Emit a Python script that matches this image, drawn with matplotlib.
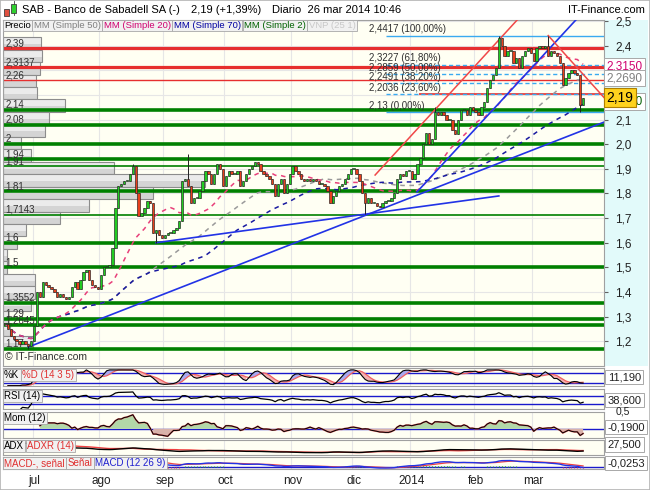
import numpy as np
import pandas as pd
import matplotlib
matplotlib.use("Agg")
import matplotlib.pyplot as plt
import matplotlib.transforms as mtransforms
from matplotlib.patches import Rectangle

plt.rcParams['font.family'] = ['Liberation Sans', 'DejaVu Sans']

W, H = 650, 490

# daily closes, 17 jun 2013 .. 26 mar 2014
closes = [
    1.27, 1.25, 1.22, 1.21, 1.20, 1.19, 1.20, 1.19, 1.18, 1.20,
    1.26, 1.40, 1.38, 1.44, 1.43, 1.42, 1.41, 1.40, 1.38, 1.39, 1.38, 1.37,
    1.38, 1.42, 1.44, 1.41, 1.45, 1.48, 1.49, 1.45, 1.43, 1.42, 1.41,
    1.47, 1.50, 1.50, 1.51, 1.58, 1.74, 1.83, 1.84, 1.85, 1.85, 1.88,
    1.91, 1.80, 1.71, 1.72, 1.74, 1.77, 1.76, 1.64, 1.65, 1.63, 1.62,
    1.63, 1.64, 1.64, 1.65, 1.66, 1.69, 1.85, 1.86, 1.83, 1.76, 1.78,
    1.78, 1.81, 1.85, 1.89, 1.88, 1.84, 1.88, 1.92, 1.90, 1.83,
    1.87, 1.89, 1.88, 1.88, 1.89, 1.83, 1.85, 1.88, 1.90, 1.91, 1.93, 1.92,
    1.89, 1.88, 1.87, 1.86, 1.84, 1.79, 1.84, 1.86, 1.80, 1.84, 1.88,
    1.91, 1.89, 1.88, 1.86, 1.85, 1.86, 1.85, 1.86, 1.85, 1.84, 1.84,
    1.83, 1.81, 1.76, 1.79, 1.81, 1.83, 1.84, 1.86, 1.88, 1.90,
    1.90, 1.88, 1.85, 1.80, 1.76, 1.78, 1.76, 1.76, 1.75, 1.745,
    1.76, 1.77, 1.77, 1.78, 1.80, 1.86, 1.88, 1.87, 1.89, 1.89,
    1.86, 1.88, 1.92, 1.945, 2.00, 2.045, 2.00, 2.02, 2.13, 2.12, 2.13,
    2.12, 2.10, 2.10, 2.06, 2.04, 2.10, 2.14, 2.14, 2.12, 2.15, 2.14,
    2.13, 2.12, 2.15, 2.17, 2.23, 2.26, 2.28, 2.31, 2.43, 2.40,
    2.36, 2.38, 2.38, 2.33, 2.35, 2.31, 2.36, 2.38, 2.39, 2.37,
    2.34, 2.39, 2.40, 2.39, 2.40, 2.36, 2.38, 2.37, 2.36,
    2.33, 2.24, 2.27, 2.29, 2.30, 2.29, 2.28, 2.16, 2.19,
]
# wicks that clearly stick out of the bodies
highs = {44: 1.92, 63: 1.96, 148: 2.15, 170: 2.44, 187: 2.4417}
lows = {8: 1.17, 52: 1.60, 124: 1.715, 198: 2.13}

month_labels = ['jul', 'ago', 'sep', 'oct', 'nov', 'dic', '2014', 'feb', 'mar']

sr_levels = [2.39, 2.3137, 2.26, 2.14, 2.08, 2.0, 1.94, 1.91, 1.81, 1.7143,
             1.6, 1.5, 1.3552, 1.29, 1.2645, 1.17]
sr_labels = ['2,39', '2,3137', '2,26', '2,14', '2,08', '2', '1,94', '1,91', '1,81',
             '1,7143', '1,6', '1,5', '1,3552', '1,29', '1,2645', '1,17']
sr_kind = ['R', 'R', 'r', 'G', 'G', 'G', 'G', 'g', 'G', 'g', 'G', 'G', 'G', 'G', 'G', 'G']

fib_levels = [2.4417, 2.3227, 2.2859, 2.2491, 2.2036, 2.13]
fib_labels = ['2,4417 (100,00%)', '2,3227 (61,80%)', '2,2859 (50,00%)',
              '2,2491 (38,20%)', '2,2036 (23,60%)', '2,13 (0,00%)']

# volume at price, top bin first
vp_top = 2.435
vp_step = 0.0506
vp_volume = [38, 39, 37, 33, 34, 62, 46, 42, 18, 28, 111, 202, 150, 86, 57, 23,
             14, 4, 4, 32, 32, 28, 5, 7, 30]

trend_blue = [((8, 1.176), (206.2, 2.09)), ((52, 1.60), (170, 1.79)),
              ((141.8, 1.806), (196.5, 2.505))]
trend_red = [((127.4, 1.875), (176.3, 2.505)), ((187, 2.4417), (206.2, 2.19))]

right_marks = [(2.3150, '2,3150', '#d0006f'), (2.2690, '2,2690', '#808080'),
               (2.1750, '2,1750', '#006000')]
last_price = 2.19

# ---------------------------------------------------------------------------
dates = pd.bdate_range('2013-06-17', '2014-03-26')
dates = dates.drop(pd.to_datetime(['2013-12-25', '2013-12-26', '2014-01-01']))
n = min(len(dates), len(closes))
dates = dates[:n]
c = pd.Series(closes[:n], dtype=float)
x = np.arange(n)
o = c.shift(1).fillna(c.iloc[0])
h = pd.concat([o, c], axis=1).max(axis=1)
l = pd.concat([o, c], axis=1).min(axis=1)
for k, v in highs.items():
    h[k] = v
for k, v in lows.items():
    l[k] = v

month_starts = [i for i in range(1, n) if dates[i].month != dates[i - 1].month]

# indicators
sma = {p: c.rolling(p, min_periods=1).mean() for p in (20, 50, 70)}
ll = l.rolling(14, min_periods=1).min()
hh = h.rolling(14, min_periods=1).max()
raw_k = 100 * (c - ll) / (hh - ll).replace(0, np.nan)
st_k = raw_k.rolling(3, min_periods=1).mean()
st_d = st_k.rolling(5, min_periods=1).mean()

delta = c.diff().fillna(0)
up = delta.clip(lower=0).ewm(alpha=1 / 14, adjust=False).mean()
dn = (-delta.clip(upper=0)).ewm(alpha=1 / 14, adjust=False).mean()
rsi = 100 - 100 / (1 + up / dn.replace(0, np.nan))

mom = c - c.shift(12)

tr = pd.concat([h - l, (h - c.shift()).abs(), (l - c.shift()).abs()], axis=1).max(axis=1)
upm = h.diff()
dnm = -l.diff()
pdm = pd.Series(np.where((upm > dnm) & (upm > 0), upm, 0.0))
ndm = pd.Series(np.where((dnm > upm) & (dnm > 0), dnm, 0.0))
atr = tr.ewm(alpha=1 / 14, adjust=False).mean()
pdi = 100 * pdm.ewm(alpha=1 / 14, adjust=False).mean() / atr
ndi = 100 * ndm.ewm(alpha=1 / 14, adjust=False).mean() / atr
dx = 100 * (pdi - ndi).abs() / (pdi + ndi).replace(0, np.nan)
adx = dx.ewm(alpha=1 / 14, adjust=False).mean()
adxr = (adx + adx.shift(14)) / 2

macd = c.ewm(span=12, adjust=False).mean() - c.ewm(span=26, adjust=False).mean()
sig = macd.ewm(span=9, adjust=False).mean()
hist = macd - sig

# ---------------------------------------------------------------------------
fig = plt.figure(figsize=(W / 100, H / 100), dpi=100)
fig.patch.set_facecolor('white')
rend = fig.canvas.get_renderer()


def add_ax(x0, y0, x1, y1):
    return fig.add_axes([x0 / W, 1 - y1 / H, (x1 - x0) / W, (y1 - y0) / H])


def ftext(px, py, s, **kw):
    return fig.text(px / W, 1 - py / H, s, **kw)


def chain(px, py, items, gap=3, boxed=True, **kw):
    # row of labels, each placed right after the previous one
    for s, col in items:
        extra = {}
        if boxed:
            extra['bbox'] = dict(boxstyle='square,pad=0.15', fc='#f1f1f1', ec='#a8a8a8', lw=0.6)
        t = ftext(px, py, s, color=col, va='center', ha='left', **extra, **kw)
        bb = t.get_window_extent(renderer=rend)
        px += bb.width + gap


XL = (-0.7, 206.2)
BG = '#fffff3'
GRID = '#e6e6e6'

# right column background of price panel
fig.patches.append(Rectangle((604 / W, 1 - 366 / H), 44 / W, 346 / H, transform=fig.transFigure,
                             fc='#e2fafa', ec='none', zorder=-1))

ax = add_ax(3, 20, 604, 366)
ax_k = add_ax(3, 368, 604, 386)
ax_r = add_ax(3, 389, 604, 409)
ax_m = add_ax(3, 412, 604, 438)
ax_a = add_ax(3, 440, 604, 455)
ax_d = add_ax(3, 457, 604, 469)

for a in (ax, ax_k, ax_r, ax_m, ax_a, ax_d):
    a.set_facecolor(BG)
    a.set_xlim(*XL)
    for s in a.spines.values():
        s.set_color('#a0a0a0')
        s.set_linewidth(0.8)
    a.set_xticks([])
    a.set_yticks([])
    for m in month_starts:
        a.axvline(m - 0.5, color=GRID, lw=0.8, zorder=0)

# ---- price panel
ax.set_ylim(1.099, 2.505)
ticks = np.round(np.arange(1.2, 2.51, 0.1), 1)
ax.yaxis.tick_right()
ax.set_yticks(ticks)
ax.set_yticklabels([f'{t:.1f}'.replace('.', ',') for t in ticks])
ax.tick_params(axis='y', length=3, color='#606060', labelsize=8.5, pad=5, labelcolor='#202020')
for t in ticks:
    ax.axhline(t, color=GRID, lw=0.8, zorder=0)

blend = mtransforms.blended_transform_factory(ax.transAxes, ax.transData)
vmax = max(vp_volume)
for i, v in enumerate(vp_volume):
    y0 = vp_top - (i + 1) * vp_step
    wfrac = v / vmax * 202 / 601
    ax.add_patch(Rectangle((0, y0), wfrac, vp_step, transform=blend, fc='#d4d4d4',
                           ec='none', zorder=1))
    ax.add_patch(Rectangle((0, y0 + vp_step * 0.45), wfrac, vp_step * 0.55, transform=blend,
                           fc='#ebebeb', ec='none', zorder=1))
    ax.add_patch(Rectangle((0, y0), wfrac, vp_step, transform=blend, fill=False,
                           ec='#8c8c8c', lw=0.8, zorder=1))

styles = {'R': ('#e62e2e', 2.3), 'r': ('#e62e2e', 1.0), 'G': ('#008000', 2.6), 'g': ('#008000', 1.2)}
for lvl, lab, kd in zip(sr_levels, sr_labels, sr_kind):
    col, lw = styles[kd]
    ax.axhline(lvl, color=col, lw=lw, zorder=2)
    ax.text(0.004, lvl, lab, transform=blend, va='bottom', ha='left', fontsize=7,
            color='#303030', zorder=3)
ax.hlines(2.2036, 142.5, XL[1], color='#e62e2e', lw=1.2, zorder=2)

for i, (lvl, lab) in enumerate(zip(fib_levels, fib_labels)):
    ls = '-' if i in (0, len(fib_levels) - 1) else (0, (3, 2))
    ax.hlines(lvl, 131, XL[1], color='#3aaaf0', lw=1.0, linestyles=[ls], zorder=2)
    ax.annotate(lab, (125.3, lvl), xytext=(0, 1), textcoords='offset points',
                va='bottom', ha='left', fontsize=7, color='#303030', zorder=3)

ax.plot(x, sma[50], color='#9a9a9a', lw=1.1, ls=(0, (3, 3)), zorder=3)
ax.plot(x, sma[70], color='#1a1aa0', lw=1.1, ls=(0, (3, 3)), zorder=3)
ax.plot(x, sma[20], color='#e8407a', lw=1.1, ls=(0, (3, 3)), zorder=3)

for (p0, p1) in trend_blue:
    ax.plot([p0[0], p1[0]], [p0[1], p1[1]], color='#2233e6', lw=1.2, zorder=3)
for (p0, p1) in trend_red:
    ax.plot([p0[0], p1[0]], [p0[1], p1[1]], color='#f04848', lw=1.1, zorder=3)

ax.vlines(x, l, h, color='#202020', lw=0.7, zorder=4)
body_lo = np.minimum(o, c)
body_h = np.maximum((c - o).abs(), 0.004)
cols = np.where(c >= o, '#22cc22', '#e8401c')
ax.bar(x, body_h, bottom=body_lo, width=0.8, color=cols, edgecolor='#202020',
       linewidth=0.45, zorder=5)

for val, lab, col in right_marks:
    ax.text(1.004, val, lab, transform=blend, va='center', ha='left', fontsize=8.5,
            color=col, clip_on=False, zorder=6,
            bbox=dict(boxstyle='square,pad=0.2', fc='white', ec='#a8a8a8', lw=0.7))
ax.text(1.004, last_price, f'{last_price:.2f}'.replace('.', ','), transform=blend,
        va='center', ha='left', fontsize=10, color='black', clip_on=False, zorder=7,
        bbox=dict(boxstyle='square,pad=0.2', fc='#ffd21e', ec='#b08000', lw=0.8))

ax.text(0.004, 0.012, '\u00a9 IT-Finance.com', transform=ax.transAxes, fontsize=7.5,
        color='#303030', va='bottom', zorder=6)

# ---- stochastic
ax_k.set_ylim(-2, 112)
for lv in (20, 80):
    ax_k.axhline(lv, color='#1a1acc', lw=1.0, zorder=1)
ax_k.fill_between(x, st_k, st_d, where=st_k >= st_d, color='#a8a8f0', lw=0, zorder=2)
ax_k.fill_between(x, st_k, st_d, where=st_k < st_d, color='#f4b0b0', lw=0, zorder=2)
ax_k.plot(x, st_d, color='#f06060', lw=0.9, zorder=3)
ax_k.plot(x, st_k, color='black', lw=0.8, zorder=3)

# ---- RSI
ax_r.set_ylim(6, 102)
for lv in (30, 70):
    ax_r.axhline(lv, color='#1a1acc', lw=1.0, zorder=1)
ax_r.plot(x, rsi, color='black', lw=0.9, zorder=3)

# ---- momentum
ax_m.set_ylim(-0.33, 0.6)
ax_m.axhline(0, color='#1a1acc', lw=1.0, zorder=1)
ax_m.fill_between(x, mom, 0, where=mom >= 0, color='#b2d8a8', lw=0, zorder=2)
ax_m.fill_between(x, mom, 0, where=mom < 0, color='#d8b2aa', lw=0, zorder=2)
ax_m.plot(x, mom, color='#e06060', lw=1.2, zorder=3)
ax_m.plot(x, mom, color='black', lw=0.7, zorder=3)

# ---- ADX
amin, amax = np.nanmin(adx), np.nanmax(adx)
rng = amax - amin
ax_a.set_ylim(amin - 0.25 * rng, amax + 0.35 * rng)
ax_a.plot(x, adxr, color='#f04040', lw=1.0, zorder=3)
ax_a.plot(x, adx, color='black', lw=1.0, zorder=3)

# ---- MACD
mmax = np.nanmax(np.abs(macd))
ax_d.set_ylim(-0.3 * mmax, 1.15 * mmax)
ax_d.axhline(0, color='#1a1acc', lw=1.0, zorder=1)
ax_d.vlines(x, 0, hist, colors=np.where(hist >= 0, '#30b030', '#e04040'), lw=0.9,
            linestyles=':', zorder=2)
ax_d.plot(x, sig, color='#f04040', lw=0.9, zorder=3)
ax_d.plot(x, macd, color='#2233e6', lw=1.0, zorder=3)

ax_d.set_xticks(month_starts)
ax_d.set_xticklabels(month_labels[:len(month_starts)])
ax_d.tick_params(axis='x', length=0, pad=4, labelsize=8.5, labelcolor='#202020')

# right value boxes of the lower panels
box = dict(boxstyle='square,pad=0.2', fc='white', ec='#a8a8a8', lw=0.7)
for a, yf, s in ((ax_k, 0.5, '11,190'), (ax_r, 0.45, '38,600'), (ax_m, 0.42, '-0,1900'),
                 (ax_a, 0.7, '27,500'), (ax_d, 0.5, '-0,0253')):
    a.text(1.006, yf, s, transform=a.transAxes, va='center', ha='left', fontsize=8,
           color='#202020', clip_on=False, bbox=box)
ax_m.text(1.02, 1.0, '0,5', transform=ax_m.transAxes, va='center', ha='left',
          fontsize=7.5, color='#202020', clip_on=False)

# ---- panel captions
chain(4, 25.5, [('Precio', 'black'), ('MM (Simple 50)', '#808080'), ('MM (Simple 20)', '#d0006f'),
                ('MM (Simple 70)', '#0000a0'), ('MM (Simple 2)', '#006000'),
                ('VNP (25 1)', '#c8c8c8')], fontsize=6.8)
chain(4, 375, [('%K', 'black'), ('%D (14 3 5)', '#e03030')], fontsize=7)
chain(4, 396, [('RSI (14)', 'black')], fontsize=7)
chain(4, 418, [('Mom (12)', 'black')], fontsize=7)
chain(4, 446, [('ADX', 'black'), ('ADXR (14)', '#e03030')], fontsize=7)
chain(4, 463, [('MACD-, se\u00f1al', '#e03030'), ('Se\u00f1al', '#e03030'),
               ('MACD (12 26 9)', '#2020d0')], fontsize=7)

# ---- header
fig.patches.append(Rectangle((4 / W, 1 - 16 / H), 5 / W, 7 / H, transform=fig.transFigure,
                             fc='#e05040', ec='#404040', lw=0.6))
fig.patches.append(Rectangle((11 / W, 1 - 13 / H), 5 / W, 9 / H, transform=fig.transFigure,
                             fc='#30d030', ec='#404040', lw=0.6))
fig.lines.append(plt.Line2D([13.5 / W, 13.5 / W], [1 - 15 / H, 1 - 1.5 / H],
                            transform=fig.transFigure, color='#404040', lw=0.6, zorder=0))
chain(22, 10, [('SAB - Banco de Sabadell SA (-)', 'black'), ('2,19 (+1,39%)', 'black'),
               ('Diario  26 mar 2014 10:46', 'black')], gap=11, boxed=False, fontsize=8)
ftext(645, 10, 'IT-Finance.com', fontsize=8, va='center', ha='right')

fig.patches.append(Rectangle((0, 0), 1, 1, transform=fig.transFigure, fill=False,
                             ec='#b4b4b4', lw=1.2))

fig.savefig('out.png', dpi=100, facecolor='white')
